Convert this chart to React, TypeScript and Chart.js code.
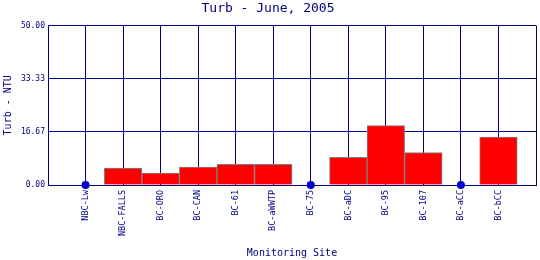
import React, { useEffect, useRef } from "react";
import { Chart, registerables } from "chart.js";

Chart.register(...registerables);

const sites = ["", "NBC-Lw", "NBC-FALLS", "BC-ORO", "BC-CAN", "BC-61", "BC-aWWTP", "BC-75", "BC-aDC", "BC-95", "BC-107", "BC-aCC", "BC-bCC", ""];
const turbValues: (number | null)[] = [null, null, 5.3, 3.7, 5.6, 6.5, 6.5, null, 8.7, 18.6, 10.2, null, 15.0, null];
const zeroValues: (number | null)[] = [null, 0, null, null, null, null, null, 0, null, null, null, 0, null, null];
const yTicks = [0, 50 / 3, 100 / 3, 50];

const NAVY = "#000080";
const MONO = "'DejaVu Sans Mono', 'Liberation Mono', monospace";

export default function App() {
  const ref = useRef<HTMLCanvasElement>(null);
  useEffect(() => {
    document.body.style.margin = "0";
    const chart = new Chart(ref.current!, {
      type: "bar",
      data: {
        labels: sites,
        datasets: [
          {
            type: "line",
            data: zeroValues,
            showLine: false,
            pointRadius: 4,
            pointBackgroundColor: "#0000CC",
            pointBorderColor: "#0000CC",
            pointBorderWidth: 0,
            clip: false,
            order: 0,
          } as any,
          {
            type: "bar",
            data: turbValues,
            backgroundColor: "#FF0000",
            borderColor: "#808080",
            borderWidth: 1,
            barPercentage: 1,
            categoryPercentage: 1,
            order: 1,
          },
        ],
      },
      options: {
        responsive: false,
        animation: false,
        layout: { padding: { left: 0, right: 4, top: 0, bottom: 0 } },
        plugins: {
          legend: { display: false },
          tooltip: { enabled: false },
          title: {
            display: true,
            text: "Turb - June, 2005",
            color: NAVY,
            font: { family: MONO, size: 13, weight: "normal" },
            padding: { top: 1, bottom: 9 },
          },
        },
        scales: {
          x: {
            offset: false,
            grid: { color: NAVY, lineWidth: 1, drawTicks: false, offset: false },
            border: { color: NAVY },
            ticks: {
              autoSkip: false,
              maxRotation: 90,
              minRotation: 90,
              padding: 5,
              color: NAVY,
              font: { family: MONO, size: 8.5 },
            },
            title: {
              display: true,
              text: "Monitoring Site",
              color: NAVY,
              font: { family: MONO, size: 10 },
              padding: { top: 0, bottom: 1 },
            },
            afterFit: (s: any) => {
              s.height = 75;
              s.paddingLeft = 0;
              s.paddingRight = 0;
            },
          } as any,
          y: {
            min: 0,
            max: 50,
            afterBuildTicks: (s: any) => {
              s.ticks = yTicks.map((v) => ({ value: v }));
            },
            grid: { color: NAVY, lineWidth: 1, drawTicks: false },
            border: { color: NAVY },
            ticks: {
              padding: 3,
              color: NAVY,
              font: { family: MONO, size: 8 },
              callback: (v: any) => Number(v).toFixed(2),
            },
            title: {
              display: true,
              text: "Turb - NTU",
              color: NAVY,
              font: { family: MONO, size: 10 },
              padding: { top: 2, bottom: 0 },
            },
            afterFit: (s: any) => {
              s.width = 48;
              s.paddingTop = 0;
              s.paddingBottom = 0;
            },
          } as any,
        },
      },
    });
    return () => chart.destroy();
  }, []);
  return <canvas ref={ref} width={540} height={260} style={{ display: "block" }} />;
}
